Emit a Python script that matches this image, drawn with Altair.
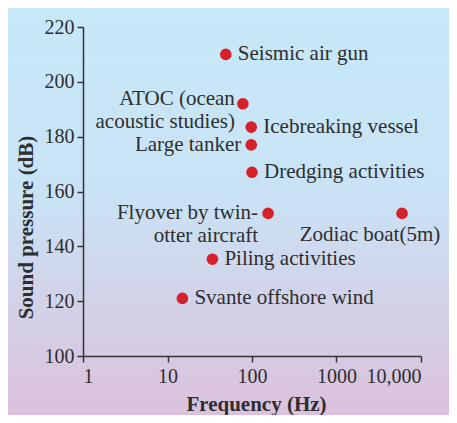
import altair as alt
import pandas as pd

sources = [
    "Seismic air gun",
    "ATOC (ocean\nacoustic studies)",
    "Icebreaking vessel",
    "Large tanker",
    "Dredging activities",
    "Flyover by twin-\notter aircraft",
    "Zodiac boat(5m)",
    "Piling activities",
    "Svante offshore wind",
]
frequency_hz = [49, 78, 98, 98, 100, 155, 5960, 34, 15]
sound_db = [210, 192, 183.5, 177, 167, 152, 152, 135.3, 121]

x_ticks = [1, 10, 100, 1000, 10000]
y_ticks = [100, 120, 140, 160, 180, 200, 220]

left_labels = ["Large tanker", "Flyover by twin-\notter aircraft"]
upper_left_labels = ["ATOC (ocean\nacoustic studies)"]
below_labels = ["Zodiac boat(5m)"]


def side_of(s):
    if s in left_labels:
        return "left"
    if s in upper_left_labels:
        return "upleft"
    if s in below_labels:
        return "below"
    return "right"


df = pd.DataFrame({"source": sources, "freq": frequency_hz, "db": sound_db})
df["side"] = [side_of(s) for s in sources]

FONT = "Liberation Serif"
TEXT = "#2e2e2e"
RED = "#d6202a"

W, H = 338, 329
PAD = {"left": 75, "top": 19, "right": 28, "bottom": 59}

x_enc = alt.X(
    "freq:Q",
    scale=alt.Scale(type="log", domain=[1, 10000]),
    axis=alt.Axis(
        values=x_ticks,
        labelExpr="datum.value == 10000 ? '10,000' : format(datum.value, 'd')",
        title="Frequency (Hz)",
        titleX=W / 2 + 4,
        titleY=48,
        titleBaseline="middle",
        grid=False,
        zindex=1,
    ),
)
y_enc = alt.Y(
    "db:Q",
    scale=alt.Scale(domain=[100, 220]),
    axis=alt.Axis(
        values=y_ticks,
        title="Sound pressure (dB)",
        titleAngle=-90,
        titleX=-57,
        titleY=200,
        titleAlign="center",
        titleBaseline="middle",
        grid=False,
        zindex=1,
    ),
)

bg = alt.Chart(pd.DataFrame({"a": [0]})).mark_rect(
    color={
        "gradient": "linear",
        "x1": 0, "y1": 0, "x2": 0, "y2": 1,
        "stops": [
            {"offset": 0, "color": "#c7e8f8"},
            {"offset": 0.45, "color": "#c9e3f5"},
            {"offset": 1, "color": "#dcc1dd"},
        ],
    }
).encode(
    x=alt.value(-PAD["left"]),
    x2=alt.value(W + PAD["right"]),
    y=alt.value(-PAD["top"]),
    y2=alt.value(H + PAD["bottom"]),
)

base = alt.Chart(df)

points = base.mark_circle(size=135, color=RED, opacity=1).encode(x=x_enc, y=y_enc)

text_common = dict(font=FONT, fontSize=21, color=TEXT, lineBreak="\n", lineHeight=23)


def label_layer(side, **kw):
    return base.transform_filter(alt.datum.side == side).mark_text(
        baseline="middle", **kw, **text_common
    ).encode(x="freq:Q", y="db:Q", text="source:N")


right_text = label_layer("right", align="left", dx=12)
left_text = label_layer("left", align="right", dx=-10, dy=0)
upleft_text = label_layer("upleft", align="right", dx=-8, dy=-5)
below_text = label_layer("below", align="center", dx=-32, dy=22)

chart = (
    alt.layer(bg, points, right_text, left_text, upleft_text, below_text)
    .properties(
        width=W,
        height=H,
        padding=PAD,
        autosize=alt.AutoSizeParams(type="none"),
        background="white",
    )
    .configure_view(stroke=None)
    .configure_axis(
        domainColor="#333333",
        domainWidth=1.5,
        tickColor="#333333",
        tickWidth=1.5,
        tickSize=6,
        labelFont=FONT,
        labelFontSize=20,
        labelColor=TEXT,
        labelPadding=3,
        titleFont=FONT,
        titleFontSize=21,
        titleFontWeight="bold",
        titleColor=TEXT,
    )
    .configure_axisX(labelPadding=4)
)

chart.save("out.html", embed_options={"renderer": "svg", "actions": False})
